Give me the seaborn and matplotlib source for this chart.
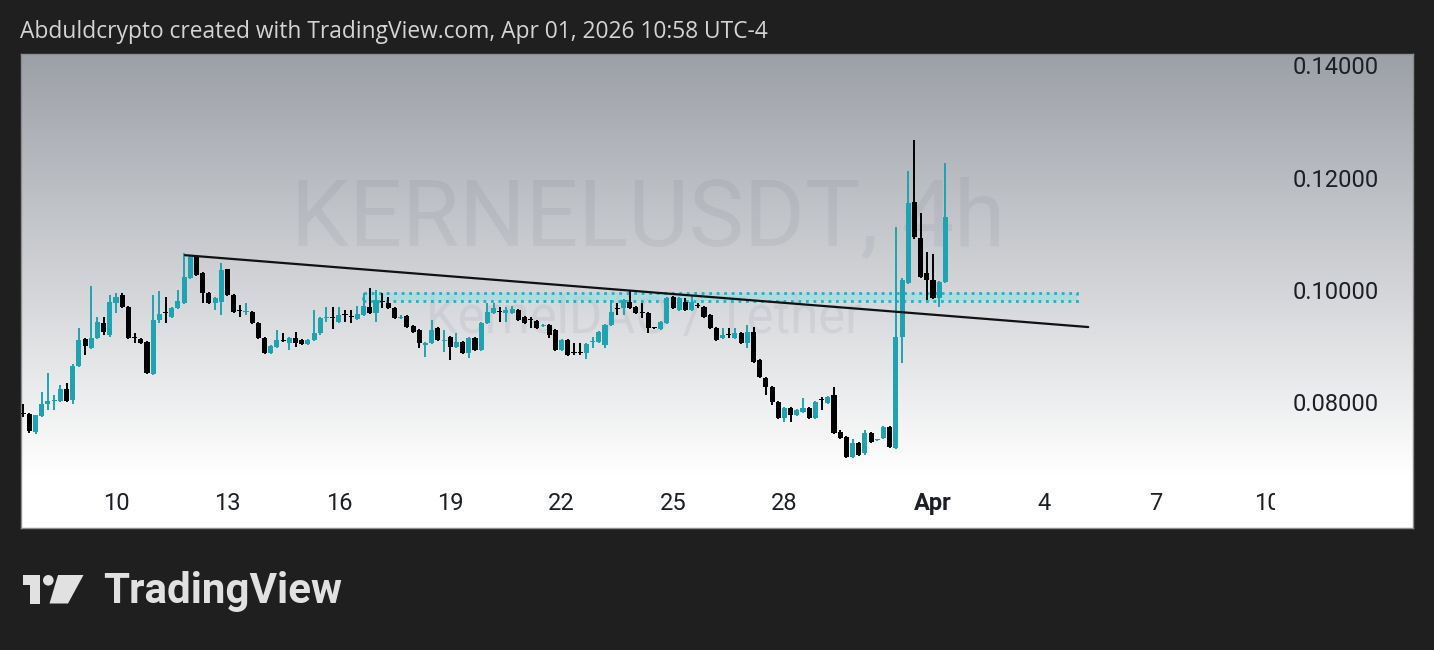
import numpy as np
import pandas as pd
import matplotlib
matplotlib.use("Agg")
import matplotlib.pyplot as plt
import matplotlib.dates as mdates
from matplotlib.patches import Rectangle, Circle, Polygon
import seaborn as sns

# ---------------- data ----------------
start_time = "2026-03-07 12:00"
bar_freq = "4h"

open_ = [0.0781, 0.0779, 0.0747, 0.0776, 0.0797, 0.0802, 0.0802, 0.0824, 0.0804, 0.0865,
         0.0913, 0.0897, 0.0915, 0.0941, 0.0920, 0.0977, 0.0991, 0.0970, 0.0915, 0.0913,
         0.0907, 0.0850, 0.0947, 0.0960, 0.0952, 0.0968, 0.0977, 0.1021, 0.1059, 0.1030,
         0.0995, 0.0977, 0.0979, 0.1037, 0.0991, 0.0963, 0.0961, 0.0961, 0.0941, 0.0915,
         0.0888, 0.0899, 0.0911, 0.0906, 0.0915, 0.0911, 0.0904, 0.0911, 0.0923, 0.0950,
         0.0952, 0.0943, 0.0956, 0.0953, 0.0948, 0.0955, 0.0970, 0.0959, 0.0979, 0.0977,
         0.0968, 0.0950, 0.0954, 0.0936, 0.0929, 0.0902, 0.0906, 0.0932, 0.0910, 0.0916,
         0.0899, 0.0907, 0.0888, 0.0915, 0.0893, 0.0941, 0.0959, 0.0962, 0.0959, 0.0959,
         0.0964, 0.0952, 0.0947, 0.0945, 0.0936, 0.0938, 0.0929, 0.0893, 0.0911, 0.0888,
         0.0888, 0.0888, 0.0907, 0.0907, 0.0902, 0.0938, 0.0968, 0.0968, 0.0979, 0.0970,
         0.0960, 0.0959, 0.0933, 0.0931, 0.0941, 0.0988, 0.0964, 0.0979, 0.0964, 0.0973,
         0.0970, 0.0955, 0.0932, 0.0915, 0.0921, 0.0915, 0.0923, 0.0906, 0.0925, 0.0875,
         0.0843, 0.0827, 0.0801, 0.0772, 0.0790, 0.0777, 0.0783, 0.0790, 0.0772, 0.0805,
         0.0799, 0.0813, 0.0747, 0.0738, 0.0703, 0.0727, 0.0709, 0.0745, 0.0732, 0.0736,
         0.0756, 0.0718, 0.0916, 0.1012, 0.1157, 0.1093, 0.1030, 0.1018, 0.0986, 0.1014]

high = [0.0797, 0.0781, 0.0777, 0.0818, 0.0852, 0.0813, 0.0831, 0.0834, 0.0868, 0.0932,
        0.0915, 0.1007, 0.0952, 0.0952, 0.0991, 0.0995, 0.0995, 0.0972, 0.0923, 0.0915,
        0.0909, 0.0991, 0.0998, 0.0988, 0.0970, 0.1000, 0.1066, 0.1060, 0.1062, 0.1032,
        0.0997, 0.0988, 0.1048, 0.1038, 0.0993, 0.0973, 0.0977, 0.0963, 0.0943, 0.0917,
        0.0902, 0.0929, 0.0923, 0.0916, 0.0925, 0.0913, 0.0913, 0.0964, 0.0952, 0.0970,
        0.0970, 0.0970, 0.0964, 0.0964, 0.0972, 0.0995, 0.1004, 0.1000, 0.0995, 0.0988,
        0.0970, 0.0955, 0.0956, 0.0938, 0.0931, 0.0908, 0.0947, 0.0934, 0.0929, 0.0918,
        0.0923, 0.0909, 0.0917, 0.0917, 0.0943, 0.0977, 0.0977, 0.0970, 0.0970, 0.0972,
        0.0966, 0.0954, 0.0952, 0.0947, 0.0940, 0.0940, 0.0931, 0.0913, 0.0913, 0.0906,
        0.0906, 0.0906, 0.0916, 0.0927, 0.0940, 0.0982, 0.0977, 0.0984, 0.1000, 0.0972,
        0.0977, 0.0961, 0.0934, 0.0945, 0.0988, 0.0990, 0.0988, 0.0986, 0.0991, 0.0977,
        0.0972, 0.0957, 0.0934, 0.0932, 0.0932, 0.0932, 0.0925, 0.0938, 0.0934, 0.0877,
        0.0845, 0.0829, 0.0803, 0.0792, 0.0792, 0.0788, 0.0808, 0.0792, 0.0803, 0.0809,
        0.0812, 0.0827, 0.0750, 0.0740, 0.0734, 0.0729, 0.0750, 0.0747, 0.0734, 0.0758,
        0.0758, 0.1112, 0.1021, 0.1212, 0.1267, 0.1137, 0.1068, 0.1064, 0.1016, 0.1226]

low = [0.0774, 0.0745, 0.0743, 0.0774, 0.0786, 0.0786, 0.0800, 0.0800, 0.0797, 0.0863,
       0.0884, 0.0895, 0.0913, 0.0920, 0.0916, 0.0959, 0.0968, 0.0913, 0.0906, 0.0904,
       0.0850, 0.0848, 0.0941, 0.0941, 0.0950, 0.0966, 0.0975, 0.1020, 0.1025, 0.0977,
       0.0975, 0.0964, 0.0955, 0.0989, 0.0959, 0.0952, 0.0955, 0.0940, 0.0913, 0.0886,
       0.0886, 0.0897, 0.0907, 0.0893, 0.0899, 0.0902, 0.0902, 0.0909, 0.0920, 0.0943,
       0.0931, 0.0941, 0.0943, 0.0941, 0.0946, 0.0953, 0.0957, 0.0943, 0.0968, 0.0966,
       0.0948, 0.0948, 0.0932, 0.0923, 0.0897, 0.0881, 0.0904, 0.0909, 0.0890, 0.0875,
       0.0897, 0.0886, 0.0879, 0.0891, 0.0891, 0.0939, 0.0957, 0.0943, 0.0943, 0.0957,
       0.0945, 0.0939, 0.0932, 0.0930, 0.0934, 0.0915, 0.0891, 0.0891, 0.0882, 0.0884,
       0.0884, 0.0877, 0.0897, 0.0905, 0.0897, 0.0936, 0.0955, 0.0955, 0.0966, 0.0957,
       0.0950, 0.0923, 0.0930, 0.0929, 0.0939, 0.0966, 0.0962, 0.0962, 0.0962, 0.0968,
       0.0950, 0.0930, 0.0909, 0.0913, 0.0915, 0.0913, 0.0904, 0.0897, 0.0870, 0.0843,
       0.0813, 0.0795, 0.0770, 0.0765, 0.0765, 0.0775, 0.0781, 0.0770, 0.0770, 0.0786,
       0.0797, 0.0743, 0.0734, 0.0701, 0.0701, 0.0704, 0.0707, 0.0727, 0.0731, 0.0734,
       0.0718, 0.0716, 0.0870, 0.1010, 0.1091, 0.1021, 0.0982, 0.0984, 0.0970, 0.1012]

close = [0.0780, 0.0749, 0.0777, 0.0797, 0.0802, 0.0804, 0.0824, 0.0802, 0.0865, 0.0911,
         0.0900, 0.0915, 0.0943, 0.0925, 0.0979, 0.0988, 0.0970, 0.0915, 0.0914, 0.0906,
         0.0852, 0.0947, 0.0957, 0.0959, 0.0968, 0.0980, 0.1023, 0.1059, 0.1027, 0.0995,
         0.0977, 0.0986, 0.1036, 0.0991, 0.0961, 0.0962, 0.0962, 0.0941, 0.0915, 0.0888,
         0.0900, 0.0911, 0.0910, 0.0915, 0.0906, 0.0904, 0.0911, 0.0923, 0.0950, 0.0952,
         0.0950, 0.0955, 0.0955, 0.0952, 0.0957, 0.0972, 0.0959, 0.0982, 0.0978, 0.0968,
         0.0950, 0.0952, 0.0934, 0.0925, 0.0906, 0.0906, 0.0929, 0.0911, 0.0911, 0.0899,
         0.0907, 0.0888, 0.0915, 0.0893, 0.0941, 0.0961, 0.0968, 0.0961, 0.0964, 0.0966,
         0.0947, 0.0941, 0.0946, 0.0932, 0.0938, 0.0920, 0.0893, 0.0911, 0.0884, 0.0887,
         0.0887, 0.0904, 0.0908, 0.0925, 0.0938, 0.0961, 0.0967, 0.0982, 0.0968, 0.0959,
         0.0959, 0.0932, 0.0932, 0.0943, 0.0986, 0.0968, 0.0986, 0.0964, 0.0979, 0.0972,
         0.0952, 0.0932, 0.0911, 0.0920, 0.0920, 0.0923, 0.0906, 0.0925, 0.0872, 0.0845,
         0.0827, 0.0801, 0.0772, 0.0790, 0.0777, 0.0786, 0.0790, 0.0772, 0.0801, 0.0804,
         0.0810, 0.0745, 0.0736, 0.0703, 0.0727, 0.0706, 0.0745, 0.0729, 0.0733, 0.0756,
         0.0720, 0.0916, 0.1018, 0.1155, 0.1094, 0.1023, 0.1018, 0.0986, 0.1014, 0.1130]

price_ticks = [0.08, 0.10, 0.12, 0.14]
date_ticks = ["2026-03-10", "2026-03-13", "2026-03-16", "2026-03-19", "2026-03-22",
              "2026-03-25", "2026-03-28", "2026-04-01", "2026-04-04", "2026-04-07",
              "2026-04-10"]
date_labels = ["10", "13", "16", "19", "22", "25", "28", "Apr", "4", "7", "10"]

trend_times = ["2026-03-11 20:36", "2026-04-05 04:19"]
trend_prices = [0.1062, 0.0934]
zone_times = ["2026-03-16 15:36", "2026-04-04 21:07"]
zone_prices = [0.0980, 0.0995]

title_text = "Abduldcrypto created with TradingView.com, Apr 01, 2026 10:58 UTC-4"
symbol_text = "KERNELUSDT, 4h"
pair_text = "KernelDAO / Tether"
brand_text = "TradingView"

# ---------------- styling ----------------
sns.set_style("white")
plt.rcParams["font.family"] = ["Roboto", "DejaVu Sans"]

UP = "#1fa3b1"
DOWN = "#000000"
W, H = 1434, 650

fig = plt.figure(figsize=(W / 100, H / 100), dpi=100, facecolor="#1f1f1f")


def rect(l, t, r, b):
    return [l / W, 1 - b / H, (r - l) / W, (b - t) / H]


# background panel with vertical gradient
ax_bg = fig.add_axes(rect(21, 54, 1413, 528))
top_col = np.array([0x9c, 0xa0, 0xa7]) / 255.0
frac = np.clip(np.linspace(0, 1, 474) / 0.89, 0, 1)[:, None]
grad = top_col[None, :] * (1 - frac) + 1.0 * frac
ax_bg.imshow(grad[:, None, :], aspect="auto", extent=(0, 1, 0, 1), interpolation="bilinear")
ax_bg.set_xlim(0, 1)
ax_bg.set_ylim(0, 1)
ax_bg.set_xticks([])
ax_bg.set_yticks([])
for s in ax_bg.spines.values():
    s.set_color("#8e8e8e")
    s.set_linewidth(1)

# main chart axes
ax = fig.add_axes(rect(21, 54, 1275, 485))
ax.patch.set_alpha(0)
for s in ax.spines.values():
    s.set_visible(False)

times = pd.date_range(start_time, periods=len(open_), freq=bar_freq)
x = mdates.date2num(times.to_pydatetime())
o = np.array(open_)
h = np.array(high)
l = np.array(low)
c = np.array(close)
up = c >= o
cols = np.where(up, UP, DOWN)
bar_w = 0.82 / 6.0

x0 = mdates.date2num(pd.Timestamp("2026-03-07 10:35").to_pydatetime())
x1 = mdates.date2num(pd.Timestamp("2026-04-10 05:02").to_pydatetime())
ax.set_xlim(x0, x1)
ax.set_ylim(0.06527, 0.14203)

# watermark
ax.text(0.5, 0.615, symbol_text, transform=ax.transAxes, ha="center", va="center",
        fontsize=67, color="#5a6078", alpha=0.09, zorder=0)
ax.text(0.497, 0.385, pair_text, transform=ax.transAxes, ha="center", va="center",
        fontsize=36.5, color="#5a6078", alpha=0.09, zorder=0)

# zone
zx = mdates.date2num(pd.to_datetime(zone_times).to_pydatetime())
ax.add_patch(Rectangle((zx[0], zone_prices[0]), zx[1] - zx[0], zone_prices[1] - zone_prices[0],
                       facecolor="#9edbe4", alpha=0.6, edgecolor="none", zorder=1))
ax.add_patch(Rectangle((zx[0], zone_prices[0]), zx[1] - zx[0], zone_prices[1] - zone_prices[0],
                       facecolor="none", edgecolor="#1cb3c6", linestyle=(0, (1, 1.7)),
                       linewidth=2.0, zorder=1.5))

# candles
ax.vlines(x, l, h, colors=cols, linewidth=1.4, zorder=3)
body_h = np.maximum(np.abs(c - o), 0.00018)
ax.bar(x, body_h, bottom=np.minimum(o, c), width=bar_w, color=cols, linewidth=0, zorder=4)

# trend line
tx = mdates.date2num(pd.to_datetime(trend_times).to_pydatetime())
sns.lineplot(x=tx, y=trend_prices, ax=ax, color="#111111", linewidth=1.6, sort=False, zorder=5)

# price scale
ax.set_xticks([])
ax.yaxis.tick_right()
ax.set_yticks(price_ticks)
ax.set_yticklabels([f"{p:.5f}" for p in price_ticks])
ax.tick_params(axis="y", length=0, pad=13, labelsize=17, labelcolor="#1c1f26")
ax.grid(False)

# time scale
ax_t = fig.add_axes(rect(21, 485, 1275, 528))
ax_t.set_xlim(x0, x1)
ax_t.set_ylim(0, 1)
ax_t.axis("off")
dx = mdates.date2num(pd.to_datetime(date_ticks).to_pydatetime())
for xv, lab in zip(dx, date_labels):
    ax_t.text(xv, 0.58, lab, ha="center", va="center", fontsize=17,
              color="#1c1f26", fontweight="bold" if lab == "Apr" else "normal",
              clip_on=True)

# header and branding
fig.text(20 / W, 1 - 32 / H, title_text, color="#d4d4d4", fontsize=16.4,
         family=["Open Sans", "DejaVu Sans"], ha="left", va="center")

ax_o = fig.add_axes([0, 0, 1, 1], zorder=-1)
ax_o.set_xlim(0, W)
ax_o.set_ylim(H, 0)
ax_o.axis("off")
logo_c = "#e1e1e1"
ax_o.add_patch(Rectangle((23, 575), 17, 10, color=logo_c, linewidth=0))
ax_o.add_patch(Rectangle((30, 575), 10, 28.5, color=logo_c, linewidth=0))
ax_o.add_patch(Circle((48.3, 580.3), 5.3, color=logo_c, linewidth=0))
ax_o.add_patch(Polygon([(58, 575), (83.5, 575), (68, 603.5), (49.5, 603.5)], closed=True,
                       color=logo_c, linewidth=0))
ax_o.text(103, 603.5, brand_text, color=logo_c, fontsize=30.3, fontweight="bold",
          ha="left", va="baseline")

fig.savefig("out.png", dpi=100, facecolor=fig.get_facecolor())
